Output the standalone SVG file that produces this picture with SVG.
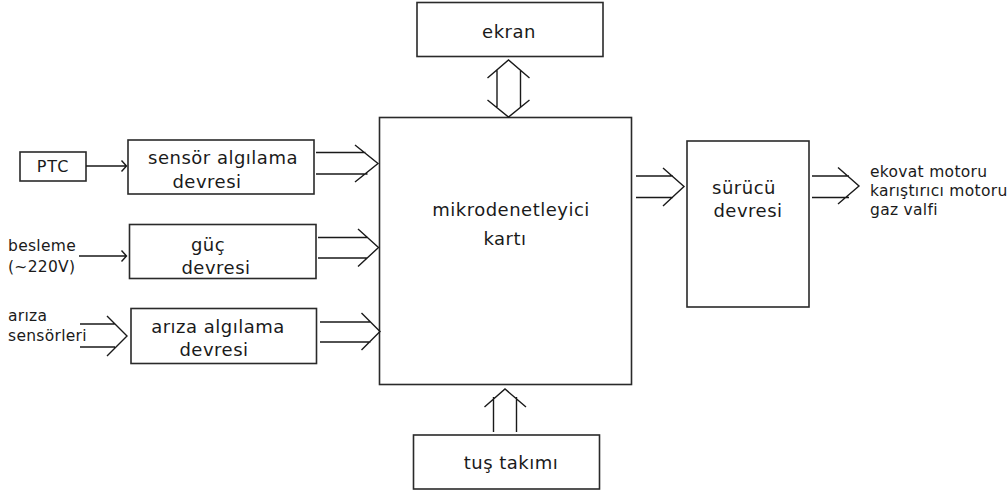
<svg xmlns="http://www.w3.org/2000/svg" width="1007" height="495" viewBox="0 0 1007 495">
<style>
.box{fill:#fff;stroke:#2a2a2a;stroke-width:1.6}
.ln{fill:none;stroke:#1a1a1a;stroke-width:1.4;stroke-linejoin:miter}
.t{font-family:"DejaVu Sans",sans-serif;font-size:18px;letter-spacing:0.5px;fill:#1a1a1a;text-anchor:middle}
.s{font-family:"DejaVu Sans",sans-serif;font-size:15.5px;letter-spacing:0.3px;fill:#1a1a1a}
</style>
<rect width="1007" height="495" fill="#fff"/>
<g id="ekran"><rect class="box" x="417" y="2.5" width="186" height="54"/><text class="t" x="509" y="38">ekran</text></g>
<g id="mikro"><rect class="box" x="379.5" y="117.5" width="252" height="267"/><text class="t" x="511" y="216">mikrodenetleyici</text><text class="t" x="505" y="245">kartı</text></g>
<g id="surucu"><rect class="box" x="687" y="141" width="122" height="166"/><text class="t" x="744" y="194">sürücü</text><text class="t" x="748" y="217">devresi</text></g>
<g id="ptc"><rect class="box" x="20" y="152" width="66" height="29"/><text class="s" x="53" y="172" text-anchor="middle" style="font-size:16px;letter-spacing:1px">PTC</text></g>
<g id="sensor"><rect class="box" x="128" y="140" width="186" height="54"/><text class="t" x="223" y="164">sensör algılama</text><text class="t" x="207" y="188">devresi</text></g>
<g id="guc"><rect class="box" x="129.5" y="224.5" width="186.5" height="54"/><text class="t" x="208" y="251">güç</text><text class="t" x="216" y="274">devresi</text></g>
<g id="ariza"><rect class="box" x="131" y="308.5" width="185.5" height="55"/><text class="t" x="218" y="333">arıza algılama</text><text class="t" x="214" y="356">devresi</text></g>
<g id="tus"><rect class="box" x="413.5" y="435" width="186" height="54"/><text class="t" x="511" y="469">tuş takımı</text></g>
<g id="besleme"><text class="s" x="8" y="251">besleme</text><text class="s" x="8" y="272">(~220V)</text></g>
<g id="arizasens"><text class="s" x="8" y="321">arıza</text><text class="s" x="8" y="341">sensörleri</text></g>
<g id="outputs"><text class="s" x="870" y="177">ekovat motoru</text><text class="s" x="870" y="196">karıştırıcı motoru</text><text class="s" x="870" y="215">gaz valfi</text></g>
<g id="connectors">
<path class="ln" d="M86 166H126.5M121.5 160.5L126.5 166L121.5 171.5"/>
<path class="ln" d="M79 256H126.5M121.5 250.5L126.5 256L121.5 261.5"/>
<path class="ln" d="M316 152.5H365.5M316 174H367.5M355 145L378 163.5L355 182"/>
<path class="ln" d="M318 237.5H368M318 258H367M358 229L378.5 247.5L358 266.5"/>
<path class="ln" d="M320 322H370.5M320 342H370.5M361.5 313L380 331.5L361.5 350"/>
<path class="ln" d="M80 324H115M80 347H115M107 316L127 336L107 356"/>
<path class="ln" d="M636 176H673M636 197.5H673M663 168L684 186.5L663 206"/>
<path class="ln" d="M812 176H849M812 197.5H849M838 167.5L859 186L838 204"/>
<path class="ln" d="M497 70V107M520.5 70V107M487.5 78L508.5 60L529.5 78M487.5 100L508.5 117L529.5 100"/>
<path class="ln" d="M493.5 432V397M516.5 432V397M484.5 407L505 389L526 407"/>
</g>
</svg>
